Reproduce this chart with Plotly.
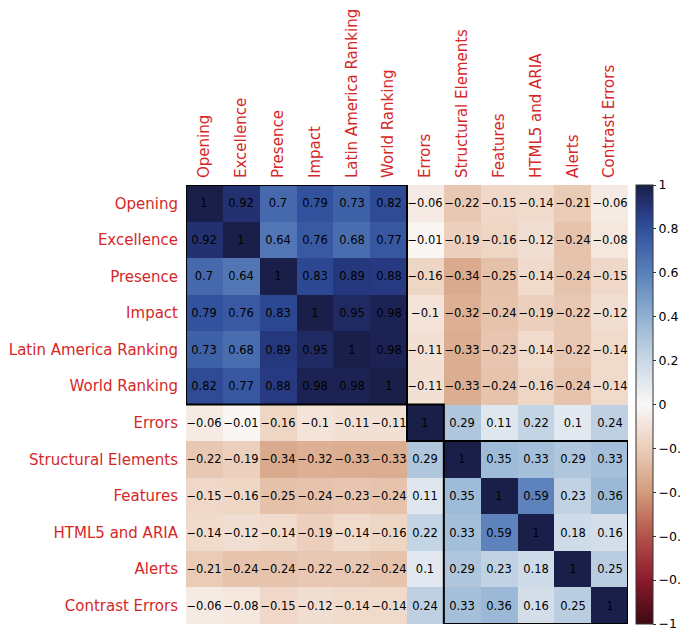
import plotly.graph_objects as go

labels = ["Opening", "Excellence", "Presence", "Impact", "Latin America Ranking",
          "World Ranking", "Errors", "Structural Elements", "Features",
          "HTML5 and ARIA", "Alerts", "Contrast Errors"]

r_opening = [1, 0.92, 0.7, 0.79, 0.73, 0.82, -0.06, -0.22, -0.15, -0.14, -0.21, -0.06]
r_excellence = [0.92, 1, 0.64, 0.76, 0.68, 0.77, -0.01, -0.19, -0.16, -0.12, -0.24, -0.08]
r_presence = [0.7, 0.64, 1, 0.83, 0.89, 0.88, -0.16, -0.34, -0.25, -0.14, -0.24, -0.15]
r_impact = [0.79, 0.76, 0.83, 1, 0.95, 0.98, -0.1, -0.32, -0.24, -0.19, -0.22, -0.12]
r_latam = [0.73, 0.68, 0.89, 0.95, 1, 0.98, -0.11, -0.33, -0.23, -0.14, -0.22, -0.14]
r_world = [0.82, 0.77, 0.88, 0.98, 0.98, 1, -0.11, -0.33, -0.24, -0.16, -0.24, -0.14]
r_errors = [-0.06, -0.01, -0.16, -0.1, -0.11, -0.11, 1, 0.29, 0.11, 0.22, 0.1, 0.24]
r_structural = [-0.22, -0.19, -0.34, -0.32, -0.33, -0.33, 0.29, 1, 0.35, 0.33, 0.29, 0.33]
r_features = [-0.15, -0.16, -0.25, -0.24, -0.23, -0.24, 0.11, 0.35, 1, 0.59, 0.23, 0.36]
r_html5 = [-0.14, -0.12, -0.14, -0.19, -0.14, -0.16, 0.22, 0.33, 0.59, 1, 0.18, 0.16]
r_alerts = [-0.21, -0.24, -0.24, -0.22, -0.22, -0.24, 0.1, 0.29, 0.23, 0.18, 1, 0.25]
r_contrast = [-0.06, -0.08, -0.15, -0.12, -0.14, -0.14, 0.24, 0.33, 0.36, 0.16, 0.25, 1]

matrix = [r_opening, r_excellence, r_presence, r_impact, r_latam, r_world,
          r_errors, r_structural, r_features, r_html5, r_alerts, r_contrast]

# cluster blocks (start index, end index)
clusters = [(0, 5), (6, 6), (7, 11)]

colorbar_ticks = [1, 0.8, 0.6, 0.4, 0.2, 0, -0.2, -0.4, -0.6, -0.8, -1]

colorscale = [
    [0.0, "#3c0911"],
    [0.1, "#8c1a2c"],
    [0.2, "#b4524a"],
    [0.3, "#d39b7c"],
    [0.4, "#ebcdb9"],
    [0.5, "#faf8f7"],
    [0.6, "#c9d8e6"],
    [0.7, "#90b1d2"],
    [0.8, "#5a80bb"],
    [0.9, "#31509c"],
    [0.95, "#25357a"],
    [1.0, "#1a1f4a"],
]


def fmt(v):
    return f"{v:g}".replace("-", "\u2212")


text = [[fmt(v) for v in row] for row in matrix]
idx = list(range(len(labels)))

fig = go.Figure()
fig.add_trace(go.Heatmap(
    z=matrix, x=idx, y=idx, text=text, texttemplate="%{text}",
    textfont=dict(family="DejaVu Sans", size=11.5, color="black"),
    colorscale=colorscale, zmin=-1, zmax=1, xgap=0, ygap=0,
    hoverinfo="skip",
    colorbar=dict(
        x=1.018, xanchor="left", xpad=0, ypad=0,
        y=0.5, yanchor="middle", len=1, lenmode="fraction",
        thickness=17, outlinewidth=1, outlinecolor="#333333",
        tickvals=colorbar_ticks, ticks="outside", ticklen=3,
        tickcolor="#333333",
        tickfont=dict(family="DejaVu Sans", size=12.5, color="black"),
    ),
))

for a, b in clusters:
    fig.add_shape(type="rect", x0=a - 0.5, x1=b + 0.5, y0=a - 0.5, y1=b + 0.5,
                  xref="x", yref="y", line=dict(color="black", width=2),
                  fillcolor="rgba(0,0,0,0)")

label_font = dict(family="DejaVu Sans", size=15, color="#d62728")

fig.update_layout(
    width=680, height=625,
    margin=dict(l=178, r=60, t=177, b=9, autoexpand=False),
    paper_bgcolor="white", plot_bgcolor="white",
    xaxis=dict(side="top", tickvals=idx, ticktext=labels, tickangle=-90,
               tickfont=label_font, showgrid=False, zeroline=False, automargin=False,
               range=[-0.5, len(labels) - 0.5], ticks="", ticklabelstandoff=6),
    yaxis=dict(tickvals=idx, ticktext=labels, tickfont=label_font,
               showgrid=False, zeroline=False, automargin=False,
               range=[len(labels) - 0.5, -0.5], ticks="", ticklabelstandoff=7),
)

fig.write_html("out.html")
